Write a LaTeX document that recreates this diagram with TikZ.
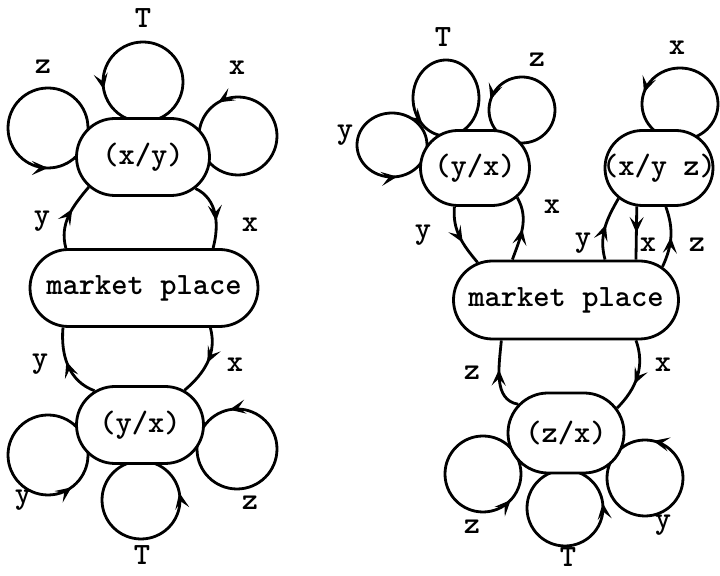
\documentclass[tikz,border=0pt]{standalone}
\usetikzlibrary{shapes.misc,decorations.markings,arrows.meta}
\newcommand\mkloop[5]{\draw[arrowat=#5] (#1) ++(0:#2) arc[start angle=0,end angle=360,x radius=#2,y radius=#3];}
\begin{document}
\begin{tikzpicture}[x=0.5pt,y=0.5pt,
  mytip/.tip={Stealth[length=8pt,width=7pt,inset=3.5pt]},
  txt/.style={font=\fontsize{15.5}{18}\selectfont\ttfamily\bfseries},
  state/.style 2 args={rounded rectangle, draw, fill=white, line width=1.4pt,
    minimum width=#1, minimum height=#2, inner sep=0pt, txt},
  lbl/.style={txt, inner sep=0pt},
  arrowat/.style={line width=1.4pt, postaction={decorate},
    decoration={markings, mark=at position #1 with {\arrow{mytip}}}},
]
\useasboundingbox (0,0) rectangle (720,-576);

% loop centres
\coordinate (lT) at (143,-82);
\coordinate (lZ) at (48,-128);
\coordinate (lX) at (238,-136);
\coordinate (lbY) at (48,-455);
\coordinate (lbT) at (141,-500);
\coordinate (lbZ) at (237,-449);
\coordinate (rT) at (446,-98);
\coordinate (rZ) at (522,-110);
\coordinate (rY) at (392,-145);
\coordinate (rX) at (680,-104);
\coordinate (rbZ) at (483,-474);
\coordinate (rbT) at (565,-508);
\coordinate (rbY) at (645,-478);

% loops
\mkloop{lT}{20pt}{20pt}{}{0.53}
\mkloop{lZ}{20pt}{20pt}{}{0.75}
\mkloop{lX}{19.5pt}{19.5pt}{}{0.335}
\mkloop{lbY}{20pt}{20pt}{}{0.85}
\mkloop{lbT}{19.5pt}{19.5pt}{}{0.03}
\mkloop{lbZ}{20pt}{20pt}{}{0.28}
\mkloop{rT}{16.5pt}{19pt}{}{0.63}
\mkloop{rZ}{16.5pt}{16.5pt}{}{0.45}
\mkloop{rY}{17.5pt}{16pt}{}{0.775}
\mkloop{rX}{19pt}{18pt}{}{0.45}
\mkloop{rbZ}{19pt}{19pt}{}{0.88}
\mkloop{rbT}{19pt}{19pt}{}{0.02}
\mkloop{rbY}{19pt}{19pt}{}{0.215}

% nodes
\node[state={66.5pt}{38.5pt}] (XY) at (143,-157) {\makebox[0pt]{(x/y)}};
\node[state={114pt}{38.5pt}] (MPL) at (144,-288) {\makebox[0pt]{market place}};
\node[state={63.5pt}{38.5pt}] (YXL) at (140,-425) {\makebox[0pt]{(y/x)}};
\node[state={54.5pt}{37.5pt}] (YXR) at (475,-168) {\makebox[0pt]{(y/x)}};
\node[state={54pt}{37.5pt}] (XYZ) at (659,-168) {\makebox[0pt]{(x/y z)}};
\node[state={112.5pt}{39pt}] (MPR) at (566,-300) {\makebox[0pt]{market place}};
\node[state={58pt}{40pt}] (ZX) at (566,-433) {\makebox[0pt]{(z/x)}};

% connectors
\draw[arrowat=0.6] (MPL.153) to[out=105,in=230] (XY.209);
\draw[arrowat=0.6] (XY.329) to[out=-25,in=75] (MPL.30);
\draw[arrowat=0.55] (YXL.143) to[out=160,in=265] (MPL.206);
\draw[arrowat=0.5] (MPL.329) to[out=-75,in=40] (YXL.38);
\draw[arrowat=0.6] (YXR.242) to[out=265,in=130] (MPR.157);
\draw[arrowat=0.5] (MPR.143) to[out=70,in=300] (YXR.325);
\draw[arrowat=0.55] (MPR.46) to[out=105,in=240] (XYZ.217);
\draw[arrowat=0.5] (XYZ.240) -- (MPR.30);
\draw[arrowat=0.5] (MPR.19) to[out=65,in=290] (XYZ.280);
\draw[arrowat=0.6] (ZX.149) to[out=170,in=265] (MPR.212);
\draw[arrowat=0.6] (MPR.330) to[out=-70,in=45] (ZX.26);

% labels
\node[lbl] (t1) at (143,-18) {T};
\node[lbl] (t2) at (43,-67) {z};
\node[lbl] (t3) at (237,-68) {x};
\node[lbl] (t4) at (42,-221) {y};
\node[lbl] (t5) at (250,-225) {x};
\node[lbl] (t6) at (40,-364) {y};
\node[lbl] (t7) at (235,-365) {x};
\node[lbl] (t8) at (23,-500) {y};
\node[lbl] (t9) at (250,-503) {z};
\node[lbl] (t10) at (142,-555) {T};
\node[lbl] (t11) at (443,-37) {T};
\node[lbl] (t12) at (537,-60) {z};
\node[lbl] (t13) at (345,-135) {y};
\node[lbl] (t14) at (677,-48) {x};
\node[lbl] (t15) at (552,-207) {x};
\node[lbl] (t16) at (423,-235) {y};
\node[lbl] (t17) at (583,-243) {y};
\node[lbl] (t18) at (648,-245) {x};
\node[lbl] (t19) at (697,-245) {z};
\node[lbl] (t20) at (472,-373) {z};
\node[lbl] (t21) at (663,-365) {x};
\node[lbl] (t22) at (472,-527) {z};
\node[lbl] (t23) at (568,-557) {T};
\node[lbl] (t24) at (663,-525) {y};
\end{tikzpicture}
\end{document}
